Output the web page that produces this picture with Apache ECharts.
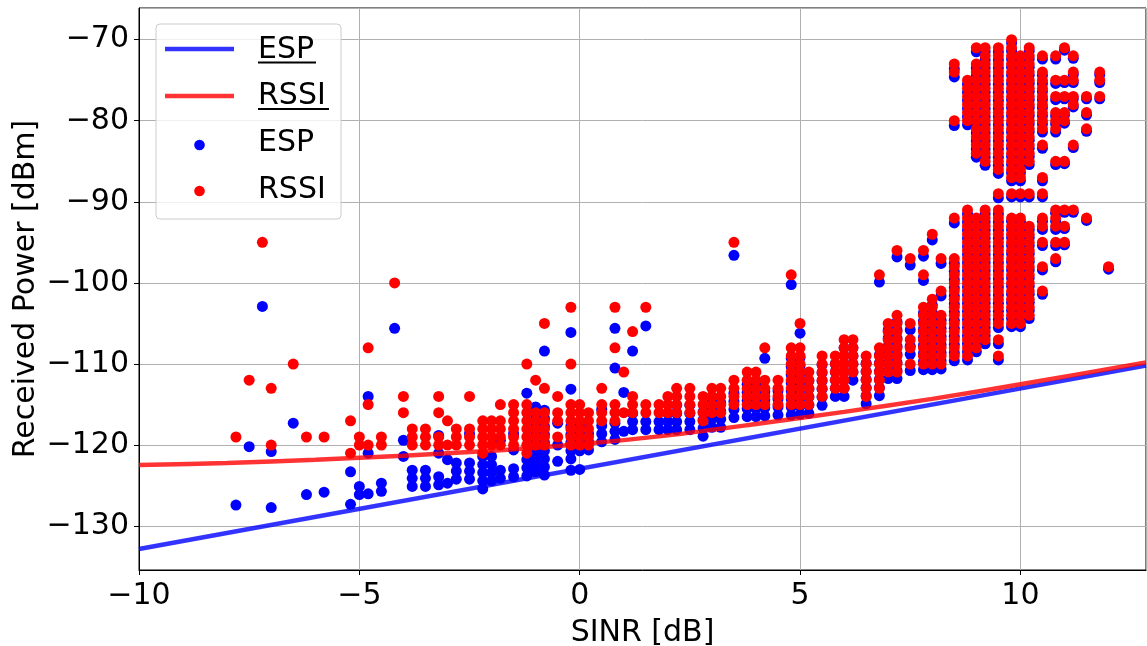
<!DOCTYPE html>
<html><head><meta charset="utf-8">
<script src="https://cdn.jsdelivr.net/npm/echarts@6/dist/echarts.min.js"></script>
<style>html,body{margin:0;padding:0;background:#fff;overflow:hidden}#chart{width:1147px;height:646px}</style>
</head><body><div id="chart"></div>
<script>
// ---- data ----
const X_LABEL = 'SINR [dB]';
const Y_LABEL = 'Received Power [dBm]';
const LEGEND_NAMES = ['ESP', 'RSSI', 'ESP', 'RSSI'];

// straight ESP model line (endpoints as read)
const ESP_LINE_X = [-10, 12.85];
const ESP_LINE_Y = [-132.8, -110.2];
// RSSI model curve
const RSSI_LINE_X = [-10, -8, -6, -4, -2, 0, 2, 4, 6, 8, 10, 12.85];
const RSSI_LINE_Y = [-122.45, -122.2, -121.8, -121.3, -120.7, -119.9, -118.8, -117.4, -115.9, -114.3, -112.5, -109.8];

// measured dots: [SINR, top dBm, bottom dBm] = a stack of dots 1 dB apart as seen in the picture
const RSSI_STACKS = [
[-7.8,-119,-119],[-7.5,-112,-112],[-7.2,-95,-95],[-7.0,-113,-113],[-7.0,-120,-120],
[-6.5,-110,-110],[-6.2,-119,-119],[-5.8,-119,-119],[-5.2,-117,-117],[-5.2,-121,-121],
[-5.0,-119,-120],[-4.8,-108,-108],[-4.8,-115,-115],[-4.8,-120,-120],[-4.5,-119,-120],
[-4.2,-100,-100],[-4.0,-114,-114],[-4.0,-116,-116],[-3.8,-118,-120],[-3.5,-118,-120],
[-3.2,-114,-114],[-3.2,-116,-116],[-3.2,-119,-120],[-3.0,-117,-117],[-3.0,-120,-120],
[-2.8,-118,-120],[-2.5,-114,-114],[-2.5,-118,-120],[-2.2,-117,-121],[-2.0,-117,-120],
[-1.8,-115,-115],[-1.8,-117,-120],[-1.5,-115,-120],[-1.2,-110,-110],[-1.2,-115,-121],
[-1.0,-112,-112],[-1.0,-116,-120],[-0.8,-105,-105],[-0.8,-113,-113],[-0.8,-116,-120],
[-0.5,-114,-114],[-0.5,-116,-117],[-0.5,-119,-119],[-0.2,-103,-103],[-0.2,-110,-110],
[-0.2,-115,-120],[0.0,-115,-120],[0.2,-116,-120],
[0.5,-113,-113],[0.5,-115,-117],[0.8,-103,-103],[0.8,-108,-108],[0.8,-115,-117],
[1.0,-111,-111],[1.0,-116,-116],[1.2,-106,-106],[1.2,-114,-116],[1.5,-103,-103],[1.5,-115,-116],
[1.8,-115,-116],[2.0,-114,-116],[2.2,-113,-116],[2.5,-113,-116],[2.8,-114,-117],
[3.0,-113,-116],[3.2,-113,-116],[3.5,-95,-95],[3.5,-112,-115],[3.8,-111,-115],[4.0,-111,-115],
[4.2,-108,-108],[4.2,-112,-115],[4.5,-112,-115],[4.8,-99,-99],[4.8,-108,-115],
[5.0,-105,-105],[5.0,-108,-115],[5.2,-111,-115],[5.5,-109,-114],[5.8,-109,-113],
[6.0,-107,-113],[6.2,-107,-111],[6.5,-109,-114],[6.8,-99,-99],[6.8,-108,-113],
[7.0,-105,-111],[7.2,-96,-96],[7.2,-104,-111],[7.5,-97,-97],[7.5,-105,-105],[7.5,-107,-108],[7.5,-110,-110],
[7.8,-96,-96],[7.8,-99,-99],[7.8,-103,-110],[8.0,-94,-94],[8.0,-102,-110],
[8.2,-97,-97],[8.2,-101,-101],[8.2,-104,-110],
[8.5,-73,-74],[8.5,-80,-80],[8.5,-92,-92],[8.5,-97,-109],
[8.8,-75,-80],[8.8,-91,-109],
[9.0,-71,-71],[9.0,-73,-84],[9.0,-92,-108],
[9.2,-71,-85],[9.2,-91,-107],
[9.5,-71,-86],[9.5,-89,-89],[9.5,-91,-105],[9.5,-107,-107],[9.5,-109,-109],
[9.8,-70,-87],[9.8,-89,-89],[9.8,-92,-105],
[10.0,-72,-87],[10.0,-89,-89],[10.0,-92,-105],
[10.2,-71,-85],[10.2,-89,-89],[10.2,-93,-104],
[10.5,-72,-72],[10.5,-74,-81],[10.5,-83,-83],[10.5,-87,-87],[10.5,-89,-89],[10.5,-92,-93],[10.5,-95,-95],[10.5,-98,-98],[10.5,-101,-101],
[10.8,-72,-72],[10.8,-75,-75],[10.8,-77,-77],[10.8,-79,-81],[10.8,-85,-85],[10.8,-91,-93],[10.8,-95,-95],[10.8,-97,-97],
[11.0,-71,-71],[11.0,-75,-75],[11.0,-77,-77],[11.0,-79,-80],[11.0,-85,-85],[11.0,-91,-91],[11.0,-93,-93],[11.0,-95,-95],
[11.2,-72,-72],[11.2,-74,-75],[11.2,-77,-78],[11.2,-83,-83],[11.2,-91,-91],
[11.5,-77,-77],[11.5,-79,-79],[11.5,-81,-81],[11.5,-92,-92],
[11.8,-74,-75],[11.8,-77,-77],[12.0,-98,-98]
];

const ESP_STACKS = [
[-7.8,-127.4,-127.4],[-7.5,-120.2,-120.2],[-7.2,-102.9,-102.9],[-7.0,-120.8,-120.8],[-7.0,-127.7,-127.7],
[-6.5,-117.3,-117.3],[-6.2,-126.1,-126.1],[-5.8,-125.8,-125.8],[-5.2,-123.3,-123.3],[-5.2,-127.3,-127.3],
[-5.0,-125.1,-126.1],[-4.8,-114,-114],[-4.8,-121,-121],[-4.8,-126,-126],[-4.5,-124.7,-125.7],
[-4.2,-105.6,-105.6],[-4.0,-119.4,-119.4],[-4.0,-121.4,-121.4],[-3.8,-123.1,-125.1],[-3.5,-123.1,-125.1],
[-3.2,-118.8,-118.8],[-3.2,-121,-121],[-3.2,-123.9,-124.9],[-3.0,-121.8,-121.8],[-3.0,-124.7,-124.7],
[-2.8,-122.2,-124.2],[-2.5,-118.6,-118.6],[-2.5,-122.2,-124.2],[-2.2,-121.4,-125.4],[-2.0,-121.4,-124.4],
[-1.8,-119.4,-119.4],[-1.8,-123.1,-124.1],[-1.5,-118.6,-118.6],[-1.5,-120.6,-120.6],[-1.5,-122.9,-123.9],
[-1.2,-113.6,-113.6],[-1.2,-121.8,-123.8],[-1.0,-115.3,-123.3],[-0.8,-108.4,-108.4],[-0.8,-115.7,-123.7],
[-0.5,-117.3,-117.3],[-0.5,-120,-120],[-0.5,-122,-122],[-0.2,-106.1,-106.1],[-0.2,-113.1,-113.1],
[-0.2,-117.7,-121.7],[-0.2,-123.1,-123.1],[0.0,-117.7,-120.7],[0.0,-123,-123],[0.2,-118.6,-120.6],
[0.5,-115.6,-115.6],[0.5,-117.6,-119.6],[0.8,-105.6,-105.6],[0.8,-110.5,-110.5],[0.8,-117.3,-119.3],
[1.0,-113.5,-113.5],[1.0,-118.3,-118.3],[1.2,-108.4,-108.4],[1.2,-116.1,-118.1],[1.5,-105.3,-105.3],[1.5,-117.1,-118.1],
[1.8,-117.1,-118.1],[2.0,-116.1,-118.1],[2.2,-115.1,-118.1],[2.5,-115.1,-118.1],[2.8,-115.9,-118.9],
[3.0,-114.8,-117.8],[3.2,-114.8,-117.8],[3.5,-96.6,-96.6],[3.5,-113.6,-116.6],[3.8,-112.5,-116.5],[4.0,-112.5,-116.5],
[4.2,-109.3,-109.3],[4.2,-113.4,-116.4],[4.5,-113.3,-116.3],[4.8,-100.2,-100.2],[4.8,-109.3,-116.3],
[5.0,-106.2,-106.2],[5.0,-109.2,-116.2],[5.2,-112.1,-116.1],[5.5,-110.1,-115.1],[5.8,-110,-114],
[6.0,-108,-114],[6.2,-108,-112],[6.5,-109.9,-114.9],[6.8,-99.9,-99.9],[6.8,-108.9,-113.9],
[7.0,-105.8,-111.8],[7.2,-96.8,-96.8],[7.2,-104.8,-111.8],[7.5,-97.8,-97.8],[7.5,-105.8,-105.8],[7.5,-107.8,-108.8],[7.5,-110.8,-110.8],
[7.8,-96.7,-96.7],[7.8,-99.7,-99.7],[7.8,-103.7,-110.7],[8.0,-94.7,-94.7],[8.0,-102.7,-110.7],
[8.2,-97.6,-97.6],[8.2,-101.6,-101.6],[8.2,-104.6,-110.6],
[8.5,-73.6,-74.6],[8.5,-80.6,-80.6],[8.5,-92.6,-92.6],[8.5,-97.6,-109.6],
[8.8,-75.5,-80.5],[8.8,-91.5,-109.5],
[9.0,-71.5,-71.5],[9.0,-73.5,-84.5],[9.0,-92.5,-108.5],
[9.2,-71.5,-85.5],[9.2,-91.5,-107.5],
[9.5,-71.5,-86.5],[9.5,-89.5,-89.5],[9.5,-91.5,-105.5],[9.5,-107.5,-107.5],[9.5,-109.5,-109.5],
[9.8,-70.4,-87.4],[9.8,-89.4,-89.4],[9.8,-92.4,-105.4],
[10.0,-72.4,-87.4],[10.0,-89.4,-89.4],[10.0,-92.4,-105.4],
[10.2,-71.4,-85.4],[10.2,-89.4,-89.4],[10.2,-93.4,-104.4],
[10.5,-72.4,-72.4],[10.5,-74.4,-81.4],[10.5,-83.4,-83.4],[10.5,-87.4,-87.4],[10.5,-89.4,-89.4],[10.5,-92.4,-93.4],[10.5,-95.4,-95.4],[10.5,-98.4,-98.4],[10.5,-101.4,-101.4],
[10.8,-72.4,-72.4],[10.8,-75.4,-75.4],[10.8,-77.4,-77.4],[10.8,-79.4,-81.4],[10.8,-85.4,-85.4],[10.8,-91.4,-93.4],[10.8,-95.4,-95.4],[10.8,-97.4,-97.4],
[11.0,-71.3,-71.3],[11.0,-75.3,-75.3],[11.0,-77.3,-77.3],[11.0,-79.3,-80.3],[11.0,-85.3,-85.3],[11.0,-91.3,-91.3],[11.0,-93.3,-93.3],[11.0,-95.3,-95.3],
[11.2,-72.3,-72.3],[11.2,-74.3,-75.3],[11.2,-77.3,-78.3],[11.2,-83.3,-83.3],[11.2,-91.3,-91.3],
[11.5,-77.3,-77.3],[11.5,-79.3,-79.3],[11.5,-81.3,-81.3],[11.5,-92.3,-92.3],
[11.8,-74.3,-75.3],[11.8,-77.3,-77.3],[12.0,-98.3,-98.3]
];

// ---- build ----
function stacksToPoints(stacks) {
  const pts = [];
  stacks.forEach(([x, top, bottom]) => {
    for (let y = top; y >= bottom - 1e-6; y -= 1) pts.push([x, Math.round(y * 10) / 10]);
  });
  return pts;
}
const zip = (xs, ys) => xs.map((x, i) => [x, ys[i]]);
const minus = v => String(v).replace('-', '\u2212');

const FONT = 'DejaVu Sans';
const BLUE_LINE = 'rgba(0,0,255,0.8)';
const RED_LINE = 'rgba(255,0,0,0.8)';

const chart = echarts.init(document.getElementById('chart'), null, { renderer: 'canvas' });
chart.setOption({
  animation: false,
  backgroundColor: '#ffffff',
  textStyle: { fontFamily: FONT },
  grid: { left: 139, top: 8, right: 1, bottom: 76, containLabel: false, outerBoundsMode: 'none',
          show: true, borderColor: '#000', borderWidth: 1, backgroundColor: 'transparent' },
  xAxis: {
    type: 'value', min: -10, max: 12.85, interval: 5,
    name: X_LABEL, nameLocation: 'middle', nameGap: 48,
    nameTextStyle: { fontSize: 30, color: '#000', fontFamily: FONT },
    axisLine: { show: true, onZero: false, lineStyle: { color: '#000', width: 1 } },
    axisTick: { show: true, length: 5, lineStyle: { color: '#000' } },
    axisLabel: { fontSize: 30, color: '#000', margin: 11, fontFamily: FONT, showMaxLabel: false, formatter: minus },
    splitLine: { show: true, lineStyle: { color: '#b0b0b0', width: 1 } }
  },
  yAxis: {
    type: 'value', min: -135.4, max: -66.1, splitNumber: 7,
    name: Y_LABEL, nameLocation: 'middle', nameGap: 98, nameRotate: 90, nameMoveOverlap: false,
    nameTextStyle: { fontSize: 30, color: '#000', fontFamily: FONT },
    axisLine: { show: true, onZero: false, lineStyle: { color: '#000', width: 1 } },
    axisTick: { show: true, length: 5, lineStyle: { color: '#000' } },
    axisLabel: { fontSize: 30, color: '#000', margin: 10, fontFamily: FONT, showMinLabel: false, showMaxLabel: false,
                 padding: [6, 0, 0, 0], formatter: minus },
    splitLine: { show: true, lineStyle: { color: '#b0b0b0', width: 1 } }
  },
  series: [
    { name: 'ESP points', type: 'scatter', data: stacksToPoints(ESP_STACKS), symbol: 'circle', symbolSize: 11,
      itemStyle: { color: '#0000ff', opacity: 1 }, silent: true, z: 2 },
    { name: 'RSSI points', type: 'scatter', data: stacksToPoints(RSSI_STACKS), symbol: 'circle', symbolSize: 11,
      itemStyle: { color: '#ff0000', opacity: 1 }, silent: true, z: 3 },
    { name: 'ESP model', type: 'line', data: zip(ESP_LINE_X, ESP_LINE_Y), showSymbol: false, symbol: 'none',
      lineStyle: { color: BLUE_LINE, width: 4.5 }, silent: true, z: 4, clip: true },
    { name: 'RSSI model', type: 'line', data: zip(RSSI_LINE_X, RSSI_LINE_Y), showSymbol: false, symbol: 'none', smooth: 0.3,
      lineStyle: { color: RED_LINE, width: 4.5 }, silent: true, z: 5, clip: true }
  ],
  graphic: [
    { type: 'rect', z: 100, shape: { x: 156, y: 24, width: 185, height: 195, r: 4 },
      style: { fill: 'rgba(255,255,255,0.8)', stroke: '#cccccc', lineWidth: 1 } },
    { type: 'line', z: 101, shape: { x1: 165, y1: 49, x2: 234, y2: 49 }, style: { stroke: BLUE_LINE, lineWidth: 4.5 } },
    { type: 'line', z: 101, shape: { x1: 165, y1: 96, x2: 234, y2: 96 }, style: { stroke: RED_LINE, lineWidth: 4.5 } },
    { type: 'circle', z: 101, shape: { cx: 199.5, cy: 145, r: 5.3 }, style: { fill: '#0000ff' } },
    { type: 'circle', z: 101, shape: { cx: 199.5, cy: 191, r: 5.3 }, style: { fill: '#ff0000' } },
    { type: 'text', z: 101, x: 258, y: 50, style: { text: LEGEND_NAMES[0], font: '30px "DejaVu Sans"', fill: '#000', verticalAlign: 'middle' } },
    { type: 'text', z: 101, x: 258, y: 96.5, style: { text: LEGEND_NAMES[1], font: '30px "DejaVu Sans"', fill: '#000', verticalAlign: 'middle' } },
    { type: 'text', z: 101, x: 258, y: 143.5, style: { text: LEGEND_NAMES[2], font: '30px "DejaVu Sans"', fill: '#000', verticalAlign: 'middle' } },
    { type: 'text', z: 101, x: 258, y: 190, style: { text: LEGEND_NAMES[3], font: '30px "DejaVu Sans"', fill: '#000', verticalAlign: 'middle' } },
    { type: 'line', z: 101, shape: { x1: 258, y1: 62.5, x2: 316, y2: 62.5 }, style: { stroke: '#000', lineWidth: 2 } },
    { type: 'line', z: 101, shape: { x1: 258, y1: 109, x2: 329, y2: 109 }, style: { stroke: '#000', lineWidth: 2 } }
  ]
});
</script>
</body></html>
